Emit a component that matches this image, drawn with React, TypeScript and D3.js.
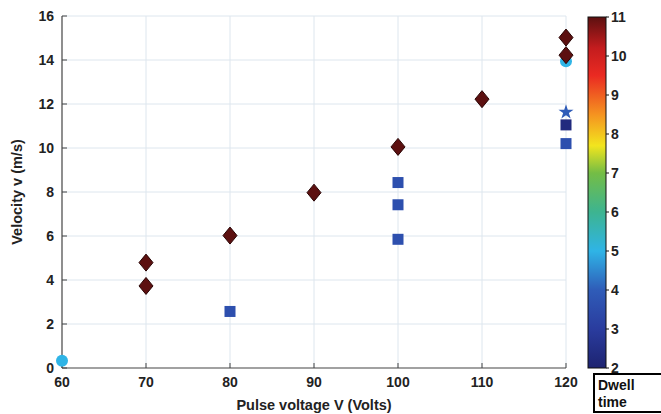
import React, { useEffect, useRef } from "react";
import * as d3 from "d3";

const xTicks = [60, 70, 80, 90, 100, 110, 120];
const yTicks = [0, 2, 4, 6, 8, 10, 12, 14, 16];
const cbTicks = [2, 3, 4, 5, 6, 7, 8, 9, 10, 11];

// points: voltage, velocity, dwell time, marker shape
const voltages = [60, 70, 70, 80, 90, 100, 110, 120, 120, 80, 100, 100, 100, 120, 120, 120, 120];
const velocities = [0.33, 4.79, 3.73, 6.02, 7.97, 10.05, 12.22, 15.02, 14.22, 2.57, 8.43, 7.42, 5.85, 10.2, 11.05, 11.63, 13.94];
const dwells = [5, 11, 11, 11, 11, 11, 11, 11, 11, 3.6, 3.6, 3.6, 3.6, 3.6, 2.3, 4, 5];
const shapes = ["circle", "diamond", "diamond", "diamond", "diamond", "diamond", "diamond", "diamond", "diamond", "square", "square", "square", "square", "square", "square", "star", "circle"];
// draw order (cyan circle at 120 behind diamonds)
const order = [0, 16, 9, 10, 11, 12, 13, 14, 15, 1, 2, 3, 4, 5, 6, 7, 8];

const cmapStops = [2, 3, 4, 5, 6, 7, 7.7, 8.5, 9.5, 10.2, 11];
const cmapColors = ["#1d2370", "#2a3c9e", "#2f5cb8", "#2fb4e6", "#3db490", "#74bd45", "#f2e51e", "#f59320", "#ea2a22", "#c41c1e", "#5c1010"];

export default function App() {
  const ref = useRef<SVGSVGElement>(null);
  useEffect(() => {
    const svg = d3.select(ref.current);
    svg.selectAll("*").remove();
    const x = d3.scaleLinear().domain([60, 120]).range([62, 566]);
    const y = d3.scaleLinear().domain([0, 16]).range([368, 16]);
    const cmap = d3.scaleLinear<string>().domain(cmapStops).range(cmapColors);
    const font = "'Liberation Sans', Arial, sans-serif";
    const fs = 14;

    // grid
    const g = svg.append("g");
    g.selectAll(".gx").data(xTicks.slice(1)).enter().append("line")
      .attr("x1", (d) => x(d)).attr("x2", (d) => x(d)).attr("y1", y(0)).attr("y2", y(16))
      .attr("stroke", "#dde6ee").attr("stroke-width", 1);
    g.selectAll(".gy").data(yTicks.slice(1)).enter().append("line")
      .attr("x1", x(60)).attr("x2", x(120)).attr("y1", (d) => y(d)).attr("y2", (d) => y(d))
      .attr("stroke", "#dde6ee").attr("stroke-width", 1);

    // axes lines
    g.append("line").attr("x1", x(60)).attr("x2", x(60)).attr("y1", y(0)).attr("y2", y(16)).attr("stroke", "#444").attr("stroke-width", 1.2);
    g.append("line").attr("x1", x(60)).attr("x2", x(120)).attr("y1", y(0)).attr("y2", y(0)).attr("stroke", "#444").attr("stroke-width", 1.2);
    g.selectAll(".tx").data(xTicks).enter().append("line")
      .attr("x1", (d) => x(d)).attr("x2", (d) => x(d)).attr("y1", y(0)).attr("y2", y(0) - 5)
      .attr("stroke", "#444");
    g.selectAll(".ty").data(yTicks).enter().append("line")
      .attr("x1", x(60)).attr("x2", x(60) + 5).attr("y1", (d) => y(d)).attr("y2", (d) => y(d))
      .attr("stroke", "#444");

    // tick labels
    g.selectAll(".lx").data(xTicks).enter().append("text")
      .attr("x", (d) => x(d)).attr("y", 387).attr("text-anchor", "middle")
      .attr("font-family", font).attr("font-weight", "bold").attr("font-size", fs).attr("fill", "#222")
      .text((d) => d);
    g.selectAll(".ly").data(yTicks).enter().append("text")
      .attr("x", 54).attr("y", (d) => y(d) + 5).attr("text-anchor", "end")
      .attr("font-family", font).attr("font-weight", "bold").attr("font-size", fs).attr("fill", "#222")
      .text((d) => d);

    // axis titles
    g.append("text").attr("x", 314).attr("y", 410).attr("text-anchor", "middle")
      .attr("font-family", font).attr("font-weight", "bold").attr("font-size", 14.5).attr("fill", "#222")
      .text("Pulse voltage V (Volts)");
    g.append("text").attr("transform", "translate(22,192) rotate(-90)").attr("text-anchor", "middle")
      .attr("font-family", font).attr("font-weight", "bold").attr("font-size", 14.5).attr("fill", "#222")
      .text("Velocity v (m/s)");

    // markers
    const pts = g.append("g");
    order.forEach((i) => {
      const cx = x(voltages[i]);
      const cy = y(velocities[i]);
      const col = cmap(dwells[i]);
      const s = shapes[i];
      if (s === "circle") {
        pts.append("circle").attr("cx", cx).attr("cy", cy).attr("r", 6).attr("fill", col);
      } else if (s === "diamond") {
        pts.append("path")
          .attr("d", `M${cx},${cy - 8.5}L${cx + 7},${cy}L${cx},${cy + 8.5}L${cx - 7},${cy}Z`)
          .attr("fill", col).attr("stroke", "#2a0505").attr("stroke-width", 1);
      } else if (s === "square") {
        pts.append("rect").attr("x", cx - 5.5).attr("y", cy - 5.5).attr("width", 11).attr("height", 11)
          .attr("fill", col);
      } else if (s === "star") {
        pts.append("path").attr("d", d3.symbol(d3.symbolStar, 70)()).attr("transform", `translate(${cx},${cy})`)
          .attr("fill", col);
      }
    });

    // colorbar
    const cb = svg.append("g");
    const cbX = 588, cbW = 18, cbTop = 17, cbBot = 368;
    const cy2 = d3.scaleLinear().domain([2, 11]).range([cbBot, cbTop]);
    const defs = svg.append("defs");
    const grad = defs.append("linearGradient").attr("id", "cbgrad").attr("x1", 0).attr("x2", 0).attr("y1", 1).attr("y2", 0);
    cmapStops.forEach((v, i) => {
      grad.append("stop").attr("offset", (v - 2) / 9).attr("stop-color", cmapColors[i]);
    });
    cb.append("rect").attr("x", cbX).attr("y", cbTop).attr("width", cbW).attr("height", cbBot - cbTop)
      .attr("fill", "url(#cbgrad)").attr("stroke", "#111").attr("stroke-width", 1);
    cb.selectAll(".ct").data(cbTicks).enter().append("line")
      .attr("x1", cbX + cbW).attr("x2", cbX + cbW + 3).attr("y1", (d) => cy2(d)).attr("y2", (d) => cy2(d))
      .attr("stroke", "#111");
    cb.selectAll(".cl").data(cbTicks).enter().append("text")
      .attr("x", 611).attr("y", (d) => cy2(d) + 5)
      .attr("font-family", font).attr("font-weight", "bold").attr("font-size", fs).attr("fill", "#222")
      .text((d) => d);

    // Dwell time box
    cb.append("rect").attr("x", 594).attr("y", 374).attr("width", 70).attr("height", 38)
      .attr("fill", "white").attr("stroke", "#000").attr("stroke-width", 2);
    cb.append("text").attr("x", 598).attr("y", 390)
      .attr("font-family", font).attr("font-weight", "bold").attr("font-size", 14).attr("fill", "#111").text("Dwell");
    cb.append("text").attr("x", 598).attr("y", 407)
      .attr("font-family", font).attr("font-weight", "bold").attr("font-size", 14).attr("fill", "#111").text("time");
  }, []);
  return (
    <svg ref={ref} width={661} height={414} style={{ position: "absolute", left: 0, top: 0, background: "white" }} />
  );
}
